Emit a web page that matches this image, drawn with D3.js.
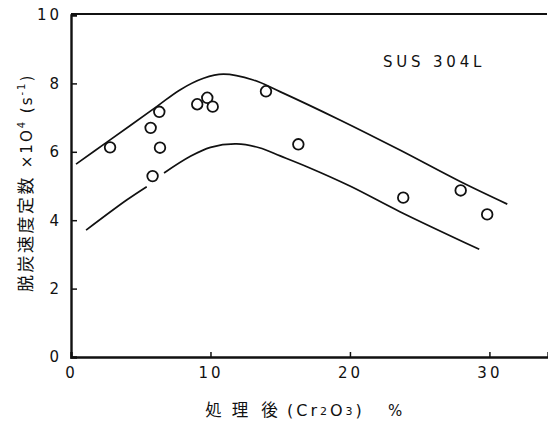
<!DOCTYPE html>
<html>
<head>
<meta charset="utf-8">
<script src="https://cdn.jsdelivr.net/npm/d3@7/dist/d3.min.js"></script>
<style>
  html, body { margin: 0; padding: 0; background: #fff; }
  svg { display: block; }
  .tick text { font-family: "DejaVu Sans", sans-serif; font-size: 15px; fill: #111; }
</style>
</head>
<body>
<svg id="chart" width="548" height="426"></svg>
<script>
// Measured decarburization rate constants (x10^4 s^-1) vs Cr2O3 % after treatment
const cr2o3 = [2.8, 6.33, 5.71, 6.38, 5.85, 9.05, 9.77, 10.16, 13.98, 16.3, 23.82, 27.94, 29.84];
const rate  = [6.13, 7.17, 6.70, 6.12, 5.29, 7.39, 7.58, 7.32, 7.77, 6.22, 4.66, 4.87, 4.17];

// Upper envelope curve
const upperX = [0.36, 2.5, 6.14, 7.81, 9.5, 10.92, 13.07, 14.98, 19.28, 23.58, 27.9, 31.28];
const upperY = [5.64, 6.26, 7.32, 7.81, 8.15, 8.27, 8.10, 7.76, 6.93, 6.05, 5.13, 4.47];
// Lower envelope curve, in two pieces (broken around the point near x = 6)
const lowerAX = [1.08, 3.99, 5.43];
const lowerAY = [3.71, 4.59, 4.98];
const lowerBX = [6.67, 8.53, 10.0, 11.87, 13.5, 15.0, 17.0, 20.0, 23.58, 29.27];
const lowerBY = [5.38, 5.86, 6.13, 6.23, 6.12, 5.88, 5.55, 5.00, 4.25, 3.15];

const xTicks = [0, 10, 20, 30];
const yTicks = [0, 2, 4, 6, 8, 10];

const svg = d3.select("#chart");
const x = d3.scaleLinear().domain([0, 34.2]).range([71, 548]);
const y = d3.scaleLinear().domain([0, 10]).range([357, 15]);

// Top border of the frame
svg.append("line").attr("x1", 71).attr("x2", 547).attr("y1", 14).attr("y2", 14)
  .attr("stroke", "#111").attr("stroke-width", 2);

const yAxis = svg.append("g").attr("transform", "translate(71,0)")
  .call(d3.axisLeft(y).tickValues(yTicks).tickSize(-6).tickPadding(9)
    .tickFormat(d => d));
const xAxis = svg.append("g").attr("transform", "translate(0,357)")
  .call(d3.axisBottom(x).tickValues(xTicks).tickSize(-5).tickPadding(10)
    .tickFormat(d => d));

[yAxis, xAxis].forEach(g => {
  g.select(".domain").attr("stroke", "#111").attr("stroke-width", 2.4);
  g.selectAll(".tick line").attr("stroke", "#111").attr("stroke-width", 1.5);
  g.selectAll(".tick text").attr("letter-spacing", "3px");
});
xAxis.selectAll(".tick").filter(d => d === 0).select("line").remove();
yAxis.selectAll(".tick").filter(d => d === 0 || d === 10).select("line").remove();

// Envelope curves
const line = d3.line().x(d => x(d[0])).y(d => y(d[1])).curve(d3.curveCatmullRom.alpha(0.5));
const pts = (xs, ys) => xs.map((v, i) => [v, ys[i]]);
[pts(upperX, upperY), pts(lowerAX, lowerAY), pts(lowerBX, lowerBY)].forEach(p => {
  svg.append("path").datum(p).attr("d", line)
    .attr("fill", "none").attr("stroke", "#111").attr("stroke-width", 1.7);
});

// Data points
svg.append("g").selectAll("circle")
  .data(pts(cr2o3, rate))
  .join("circle")
  .attr("cx", d => x(d[0])).attr("cy", d => y(d[1])).attr("r", 5.3)
  .attr("fill", "#fff").attr("stroke", "#111").attr("stroke-width", 1.8);

// Steel grade label
svg.append("text").attr("x", 383).attr("y", 67)
  .attr("font-family", "DejaVu Sans, sans-serif").attr("font-size", 15)
  .attr("letter-spacing", "3.8px").attr("fill", "#111").text("SUS 304L");

// Y axis title (rotated)
const yl = svg.append("text").attr("transform", "translate(32,292) rotate(-90)")
  .attr("fill", "#111");
yl.append("tspan").attr("font-family", "Noto Sans CJK JP, sans-serif")
  .attr("font-size", 17).attr("letter-spacing", "2.5px").text("脱炭速度定数");
const ylat = { "font-family": "DejaVu Sans, sans-serif", "font-size": 15, "letter-spacing": "2px" };
const addY = (t, opts) => {
  const s = yl.append("tspan");
  Object.entries(Object.assign({}, ylat, opts || {})).forEach(([k, v]) => s.attr(k, v));
  s.text(t);
};
addY(" ×1O");
addY("4", { "font-size": 10, dy: -7 });
addY(" (s", { dy: 7 });
addY("-1", { "font-size": 10, dy: -7 });
addY(")", { dy: 7 });

// X axis title
const jp = ["処", "理", "後"];
const jpX = [213.5, 240, 269.5];
svg.append("g").selectAll("text").data(jp).join("text")
  .attr("x", (d, i) => jpX[i]).attr("y", 416).attr("text-anchor", "middle")
  .attr("font-family", "Noto Sans CJK JP, sans-serif").attr("font-size", 16.5)
  .attr("fill", "#111").text(d => d);
const xl = svg.append("text").attr("x", 287).attr("y", 416)
  .attr("font-family", "DejaVu Sans, sans-serif").attr("font-size", 16)
  .attr("letter-spacing", "3px").attr("fill", "#111");
xl.append("tspan").text("(Cr");
xl.append("tspan").attr("font-size", 11).attr("dy", -1).text("2");
xl.append("tspan").attr("dy", 1).text("O");
xl.append("tspan").attr("font-size", 11).attr("dy", -1).text("3");
xl.append("tspan").attr("dy", 1).text(")");
svg.append("text").attr("x", 388).attr("y", 416)
  .attr("font-family", "DejaVu Sans, sans-serif").attr("font-size", 15)
  .attr("fill", "#111").text("%");
</script>
</body>
</html>
